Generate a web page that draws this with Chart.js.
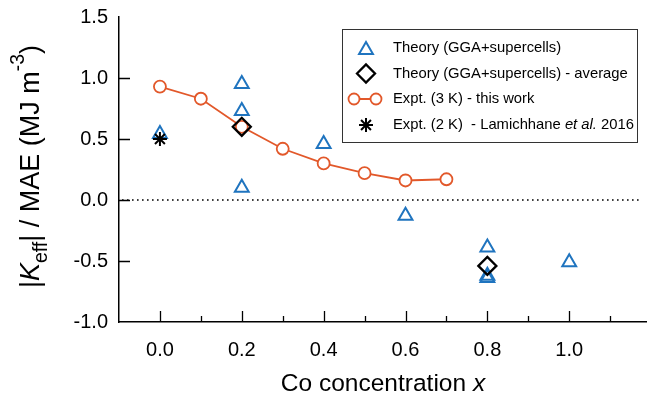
<!DOCTYPE html>
<html>
<head>
<meta charset="utf-8">
<script src="https://cdn.jsdelivr.net/npm/chart.js@4.4.1/dist/chart.umd.min.js"></script>
<style>
  html, body { margin: 0; padding: 0; background: #fff; }
  #wrap { width: 647px; height: 403px; position: relative; }
</style>
</head>
<body>
<div id="wrap"><canvas id="c" width="647" height="403"></canvas></div>
<script>
// Theory (GGA + supercells), individual configurations
const theoryX = [0.0, 0.2, 0.2, 0.2, 0.4, 0.6, 0.8, 0.8, 0.8, 1.0];
const theoryY = [0.54, 0.95, 0.73, 0.10, 0.46, -0.13, -0.39, -0.62, -0.64, -0.51];
// Theory averages per concentration
const avgX = [0.2, 0.8];
const avgY = [0.60, -0.54];
// Experiment at 3 K (this work)
const exptX = [0.0, 0.1, 0.2, 0.3, 0.4, 0.5, 0.6, 0.7];
const exptY = [0.93, 0.83, 0.60, 0.42, 0.30, 0.22, 0.16, 0.17];
// Experiment at 2 K (Lamichhane et al. 2016)
const lamX = [0.0];
const lamY = [0.50];
// Axis ticks
const xTicks = [0.0, 0.2, 0.4, 0.6, 0.8, 1.0];
const xMinorTicks = [0.1, 0.3, 0.5, 0.7, 0.9, 1.1];
const yTicks = [-1.0, -0.5, 0.0, 0.5, 1.0, 1.5];

const BLUE = '#1f74bf';
const ORANGE = '#e2582a';
const FONT = '"Liberation Sans", Arial, Helvetica, sans-serif';

const pts = (xs, ys) => xs.map((x, i) => ({ x, y: ys[i] }));

const triStyle = { pointStyle: 'triangle', radius: 8, borderWidth: 2, borderColor: BLUE, backgroundColor: 'rgba(0,0,0,0)' };
const diaStyle = { pointStyle: 'rectRot', radius: 9, borderWidth: 2.3, borderColor: '#000', backgroundColor: 'rgba(0,0,0,0)' };
const circStyle = { pointStyle: 'circle', radius: 6, borderWidth: 1.8, borderColor: ORANGE, backgroundColor: '#fff' };
const starStyle = { pointStyle: 'star', radius: 7, borderWidth: 2, borderColor: '#000', backgroundColor: 'rgba(0,0,0,0)' };

function drawRich(ctx, segs, size) {
  // measure then draw a run of styled text pieces, centred on x = 0, baseline y = 0
  let total = 0;
  const parts = segs.map(s => {
    const fs = size * (s.scale || 1);
    const font = (s.italic ? 'italic ' : '') + fs + 'px ' + FONT;
    ctx.font = font;
    const w = ctx.measureText(s.t).width;
    total += w;
    return { t: s.t, font, w, dy: (s.dy || 0) * size };
  });
  let x = -total / 2;
  ctx.textAlign = 'left';
  ctx.textBaseline = 'alphabetic';
  ctx.fillStyle = '#000';
  for (const p of parts) {
    ctx.font = p.font;
    ctx.fillText(p.t, x, p.dy);
    x += p.w;
  }
}

const decor = {
  id: 'decor',
  beforeDatasetsDraw(chart) {
    const { ctx, chartArea: a, scales: { y } } = chart;
    const y0 = y.getPixelForValue(0);
    ctx.save();
    ctx.strokeStyle = '#000';
    ctx.lineWidth = 1.6;
    ctx.setLineDash([1.6, 3.4]);
    ctx.beginPath();
    ctx.moveTo(a.left + 3, y0);
    ctx.lineTo(a.right - 8, y0);
    ctx.stroke();
    ctx.restore();
  },
  afterDraw(chart) {
    const { ctx, chartArea: a, scales: { x, y } } = chart;
    ctx.save();
    // inward tick marks
    ctx.strokeStyle = '#000';
    ctx.lineWidth = 1.3;
    ctx.beginPath();
    for (const v of yTicks) {
      if (v <= y.min || v >= y.max) continue;
      const py = Math.round(y.getPixelForValue(v)) + 0.5;
      ctx.moveTo(a.left, py); ctx.lineTo(a.left + 11, py);
    }
    for (const v of xTicks) {
      const px = Math.round(x.getPixelForValue(v)) + 0.5;
      ctx.moveTo(px, a.bottom); ctx.lineTo(px, a.bottom - 11);
    }
    for (const v of xMinorTicks) {
      const px = Math.round(x.getPixelForValue(v)) + 0.5;
      ctx.moveTo(px, a.bottom); ctx.lineTo(px, a.bottom - 6);
    }
    ctx.stroke();

    // legend
    const L = 342.5, T = 29.5, R = 637.5, B = 142.5;
    ctx.fillStyle = '#fff';
    ctx.fillRect(L, T, R - L, B - T);
    ctx.strokeStyle = '#333';
    ctx.lineWidth = 1;
    ctx.strokeRect(L, T, R - L, B - T);
    const sx = 366, tx = 393;
    const rows = [48, 73.5, 99, 125];
    const H = Chart.helpers;
    const mk = (st, px, py) => {
      ctx.strokeStyle = st.borderColor; ctx.fillStyle = st.backgroundColor; ctx.lineWidth = st.borderWidth;
      H.drawPoint(ctx, { pointStyle: st.pointStyle, radius: st.radius, rotation: 0, borderWidth: st.borderWidth }, px, py);
    };
    mk(triStyle, sx, rows[0] + 2);
    mk(diaStyle, sx, rows[1]);
    ctx.strokeStyle = ORANGE; ctx.lineWidth = 1.8;
    ctx.beginPath(); ctx.moveTo(348, rows[2]); ctx.lineTo(382, rows[2]); ctx.stroke();
    mk({ ...circStyle, radius: 5.5 }, 354, rows[2]);
    mk({ ...circStyle, radius: 5.5 }, 376, rows[2]);
    mk(starStyle, sx, rows[3]);

    const fs = 14.8;
    const txt = (segs, py) => {
      let px = tx;
      ctx.textBaseline = 'middle'; ctx.textAlign = 'left'; ctx.fillStyle = '#000';
      for (const s of segs) {
        ctx.font = (s.italic ? 'italic ' : '') + fs + 'px ' + FONT;
        ctx.fillText(s.t, px, py);
        px += ctx.measureText(s.t).width;
      }
    };
    txt([{ t: 'Theory (GGA+supercells)' }], rows[0]);
    txt([{ t: 'Theory (GGA+supercells) - average' }], rows[1]);
    txt([{ t: 'Expt. (3 K) - this work' }], rows[2]);
    txt([{ t: 'Expt. (2 K)  - Lamichhane ' }, { t: 'et al.', italic: true }, { t: ' 2016' }], rows[3]);

    // axis titles
    ctx.save();
    ctx.translate(383, 391);
    drawRich(ctx, [{ t: 'Co concentration ' }, { t: 'x', italic: true }], 24.5);
    ctx.restore();

    ctx.save();
    ctx.translate(38.5, 166.5);
    ctx.rotate(-Math.PI / 2);
    drawRich(ctx, [
      { t: '|' },
      { t: 'K', italic: true },
      { t: 'eff', scale: 0.72, dy: 0.3 },
      { t: '| / MAE (MJ m' },
      { t: '-3', scale: 0.72, dy: -0.55 },
      { t: ')' }
    ], 27);
    ctx.restore();
    ctx.restore();
  }
};

const toStyle = s => ({
  pointStyle: s.pointStyle, pointRadius: s.radius, pointHoverRadius: s.radius,
  pointBorderWidth: s.borderWidth, pointBorderColor: s.borderColor, pointBackgroundColor: s.backgroundColor,
  borderColor: s.borderColor, backgroundColor: s.backgroundColor
});

new Chart(document.getElementById('c'), {
  type: 'scatter',
  data: {
    datasets: [
      { label: 'Expt. (2 K) - Lamichhane et al. 2016', data: pts(lamX, lamY), order: 0, ...toStyle(starStyle) },
      { label: 'Theory (GGA+supercells) - average', data: pts(avgX, avgY), order: 1, ...toStyle(diaStyle) },
      { label: 'Theory (GGA+supercells)', data: pts(theoryX, theoryY), order: 2, ...toStyle(triStyle) },
      { label: 'Expt. (3 K) - this work', data: pts(exptX, exptY), order: 3, ...toStyle(circStyle),
        showLine: true, borderWidth: 1.8, borderColor: ORANGE }
    ]
  },
  options: {
    responsive: false,
    animation: false,
    devicePixelRatio: 1,
    layout: { autoPadding: false, padding: { top: 17, left: 0, right: 0, bottom: 0 } },
    plugins: { legend: { display: false }, tooltip: { enabled: false } },
    scales: {
      x: {
        type: 'linear', min: -0.1, max: 1.19,
        grid: { display: false, drawTicks: false },
        border: { display: true, color: '#000', width: 1.5 },
        afterBuildTicks: s => { s.ticks = xTicks.map(v => ({ value: v })); },
        afterFit: s => { s.height = 81; s.paddingLeft = 0; s.paddingRight = 0; },
        ticks: { color: '#000', padding: 16, font: { family: FONT, size: 20 }, callback: v => v.toFixed(1), maxRotation: 0, autoSkip: false }
      },
      y: {
        type: 'linear', min: -1.0, max: 1.5,
        grid: { display: false, drawTicks: false },
        border: { display: true, color: '#000', width: 1.5 },
        afterBuildTicks: s => { s.ticks = yTicks.map(v => ({ value: v })); },
        afterFit: s => { s.width = 119; s.paddingTop = 0; s.paddingBottom = 0; },
        ticks: { color: '#000', padding: 11, font: { family: FONT, size: 20 }, callback: v => v.toFixed(1), autoSkip: false }
      }
    }
  },
  plugins: [decor]
});
</script>
</body>
</html>
